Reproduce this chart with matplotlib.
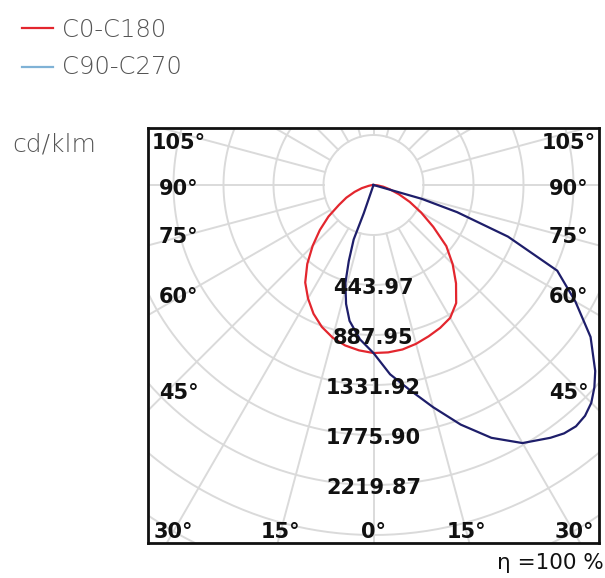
import numpy as np
import matplotlib
matplotlib.use("Agg")
import matplotlib.pyplot as plt
from matplotlib.lines import Line2D

# polar intensity data (cd/klm), angle from nadir in degrees, negative = left
c0_angles = [-90, -85, -80, -75, -70, -65, -60, -55, -50, -45, -40, -35, -30, -25, -20,
             -15, -10, -5, 0, 5, 10, 15, 20, 25, 30, 35, 40, 45, 50, 55, 60, 65, 70,
             75, 80, 85, 90]
c0_values = [0, 18, 44, 107, 178, 266, 355, 488, 622, 764, 915, 1057, 1163, 1261, 1341,
             1403, 1447, 1474, 1492, 1492, 1483, 1460, 1430, 1400, 1362, 1280, 1140, 994,
             844, 648, 488, 355, 240, 151, 89, 36, 0]

c90_angles = [-19, -19, -20, -18, -16, -13, -10, -5, 0, 5, 10, 15, 20, 25, 30, 35, 37.5,
              40, 42.5, 45, 47.5, 50, 55, 60, 65, 69, 72, 74, 74]
c90_values = [0, 266, 515, 710, 906, 1083, 1225, 1376, 1492, 1687, 1847, 2042, 2264,
              2477, 2646, 2740, 2780, 2797, 2780, 2735, 2660, 2570, 2353, 2070, 1800,
              1279, 781, 444, 0]

ring_step = 443.97
ring_labels = ["443.97", "887.95", "1331.92", "1775.90", "2219.87"]
side_angles = [105, 90, 75, 60, 45]
bottom_angles = [-30, -15, 0, 15, 30]

W, H = 605, 578
fig = plt.figure(figsize=(W / 100, H / 100), dpi=100)
ax = fig.add_axes([148 / W, 35 / H, 451 / W, 415 / H])

s = ring_step / 50.0  # data units per pixel
ax.set_xlim(-225.5 * s, 225.5 * s)
ax.set_ylim(-358 * s, 57 * s)
ax.set_aspect("equal")
ax.set_xticks([])
ax.set_yticks([])
for sp in ax.spines.values():
    sp.set_linewidth(2)
    sp.set_color("#111111")

grid_col = "#dadada"
t = np.linspace(0, 2 * np.pi, 400)
for k in range(1, 10):
    r = k * ring_step
    ax.plot(r * np.cos(t), r * np.sin(t), color=grid_col, lw=1.4, zorder=1)
for a in range(0, 360, 15):
    ar = np.radians(a)
    r0, r1 = ring_step, 10 * ring_step
    ax.plot([r0 * np.sin(ar), r1 * np.sin(ar)], [-r0 * np.cos(ar), -r1 * np.cos(ar)],
            color=grid_col, lw=1.4, zorder=1)


def xy(angles, values):
    th = np.radians(angles)
    v = np.asarray(values, dtype=float)
    return v * np.sin(th), -v * np.cos(th)


x, y = xy(c0_angles, c0_values)
ax.plot(x, y, color="#e3262e", lw=1.6, zorder=3)
x, y = xy(c90_angles, c90_values)
ax.plot(x, y, color="#1e1e6a", lw=1.6, zorder=3)

lab_kw = dict(ha="center", va="center", fontsize=15, color="#111111",
              weight="bold", zorder=4)

# ring value labels
for k, lab in enumerate(ring_labels):
    ax.text(0, -(k + 2) * ring_step - 3 * s, lab, **lab_kw)

# angle labels: sides at a fixed inset from the frame, bottom row along the rays
side_dy = {105: -42, 90: 4, 75: 52, 60: 112, 45: 208}
for a in side_angles:
    for sign in (-1, 1):
        ax.text(sign * 195 * s, -side_dy[a] * s, f"{a}°", **lab_kw)
for a in bottom_angles:
    ax.text(347 * s * np.tan(np.radians(a)), -347 * s, f"{abs(a)}°", **lab_kw)

# legend
fig.add_artist(Line2D([22 / W, 53 / W], [1 - 28 / H, 1 - 28 / H], color="#e3262e", lw=1.6))
fig.add_artist(Line2D([22 / W, 53 / W], [1 - 67 / H, 1 - 67 / H], color="#7fb2d6", lw=1.6))
fig.text(62 / W, 1 - 30 / H, "C0-C180", ha="left", va="center", fontsize=17.5,
         color="#555555", weight="light")
fig.text(62 / W, 1 - 67 / H, "C90-C270", ha="left", va="center", fontsize=17.5,
         color="#555555", weight="light")
fig.text(12 / W, 1 - 145 / H, "cd/klm", ha="left", va="center", fontsize=18,
         color="#555555", weight="light")
fig.text(604 / W, 1 - 563 / H, "η =100 %", ha="right", va="center", fontsize=15.5,
         color="#111111")

fig.savefig("out.png", dpi=100)
